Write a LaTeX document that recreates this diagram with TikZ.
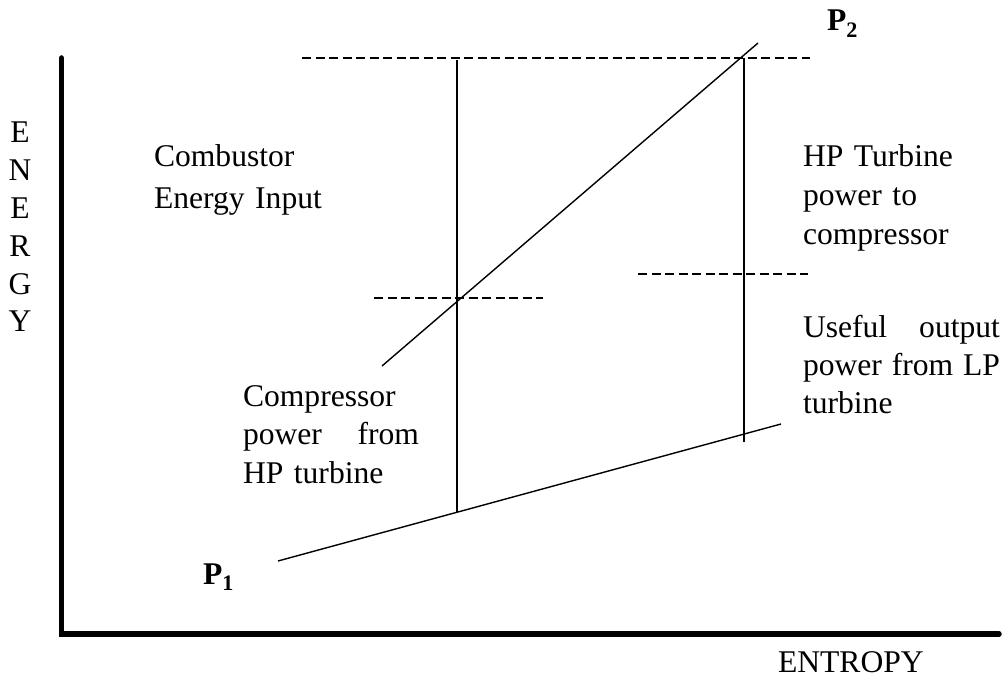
\documentclass[tikz,border=0pt]{standalone}
\usepackage{fontspec}
\setmainfont{Liberation Serif}
\tikzset{
	% thick axes, thin process lines and dashed energy levels
	axis line/.style={line width=5.5pt,line cap=round},
	process line/.style={line width=1.4pt},
	level line/.style={line width=1.2pt,dash pattern=on 9pt off 4.5pt},
	% text set in the same size everywhere
	chart text/.style={inner sep=0,outer sep=0,anchor=base west,align=left,
		font=\fontsize{31.6}{39}\selectfont},
	point text/.style={inner sep=0,outer sep=0,anchor=base west,
		font=\fontsize{31.6}{39}\selectfont\bfseries}
}

\begin{document}
\begin{tikzpicture}[x=1pt,y=-1pt]
	\useasboundingbox (0,0) rectangle (1007,679);
	% corner points of the lines
	\coordinate (origin) at (61.5,634);
	\coordinate (ytop) at (61.5,58);
	\coordinate (xend) at (999,634);
	\coordinate (low-start) at (278,561);
	\coordinate (low-end) at (781,424);
	\coordinate (high-start) at (382,366);
	\coordinate (high-end) at (758,43);
	\coordinate (hp-top) at (457,60);
	\coordinate (hp-bottom) at (457,512);
	\coordinate (lp-top) at (744,58);
	\coordinate (lp-bottom) at (744,442);
	
	% axes
	\draw[axis line] (ytop) -- (origin) -- (xend);
	
	% pressure lines
	\draw[process line] (low-start) -- (low-end);
	\draw[process line] (high-start) -- (high-end);
	\draw[process line] (hp-top) -- (hp-bottom);
	\draw[process line] (lp-top) -- (lp-bottom);
	
	% energy levels
	\coordinate (top-a) at (302,58);
	\coordinate (top-b) at (810,58);
	\coordinate (mid-a) at (374,298);
	\coordinate (mid-b) at (543,298);
	\coordinate (turb-a) at (638,274);
	\coordinate (turb-b) at (808,274);
	\draw[level line] (top-a) -- (top-b);
	\draw[level line] (mid-a) -- (mid-b);
	\draw[level line] (turb-a) -- (turb-b);
	
	% axis names
	\node(energy)[chart text,anchor=base,align=center,text width=30pt,
		font=\fontsize{31.6}{37.8}\selectfont] at (20,143) {E\\N\\E\\R\\G\\Y};
	\node(entropy)[chart text] at (778,672) {ENTROPY};
	
	% pressures
	\node(p-one)[point text] at (203,584) {P\textsubscript{1}};
	\node(p-two)[point text] at (827,31) {P\textsubscript{2}};
	
	% descriptions
	\node(combustor)[chart text,text width=220pt,
		font=\fontsize{31.6}{42}\selectfont] at (154,167) {Combustor\\Energy Input};
	\node(hp-turbine)[chart text,text width=200pt] at (803,167)
		{HP Turbine\\power to\\compressor};
	\node(useful)[chart text,text width=197pt,
		font=\fontsize{31.6}{38}\selectfont] at (803,337)
		{Useful\hfill output\\power\hfill from\hfill LP\\turbine};
	\node(compressor)[chart text,text width=176pt,
		font=\fontsize{31.6}{38.5}\selectfont] at (243,406)
		{Compressor\\power\hfill from\\HP turbine};
\end{tikzpicture}
\end{document}
